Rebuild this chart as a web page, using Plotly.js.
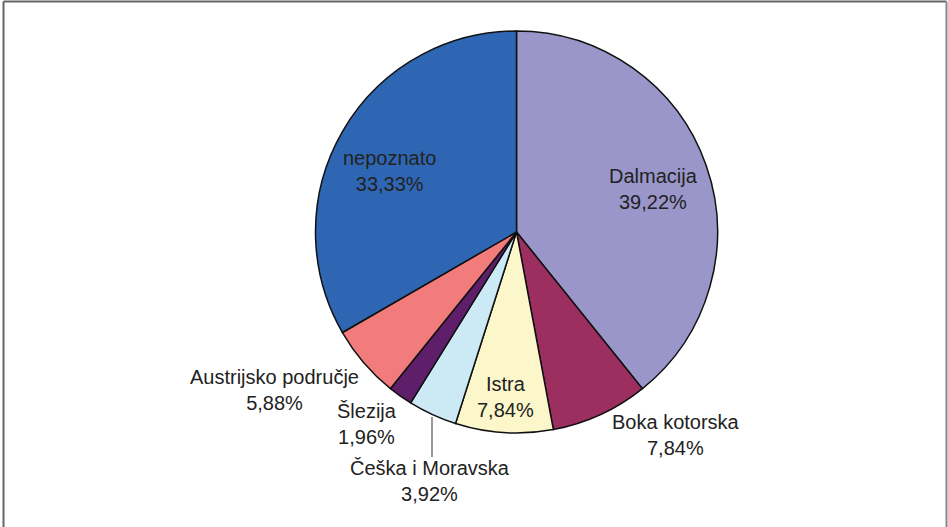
<!DOCTYPE html>
<html>
<head>
<meta charset="utf-8">
<script src="https://cdn.plot.ly/plotly-3.0.1.min.js"></script>
<style>
html,body{margin:0;padding:0;background:#fff;}
#chart{width:948px;height:527px;}
</style>
</head>
<body>
<div id="chart"></div>
<script>
// Data
const categories = ["Dalmacija", "Boka kotorska", "Istra", "Češka i Moravska", "Šlezija", "Austrijsko područje", "nepoznato"];
const shares = [39.22, 7.84, 7.84, 3.92, 1.96, 5.88, 33.33];
const sliceColors = ["#9A96C9", "#9C2F60", "#FBF7CB", "#CCEAF5", "#5F1E6A", "#F27C7C", "#2E66B3"];

const W = 948, H = 527;
const cx = 516.5, cy = 232, R = 201;

function pct(v){ return v.toFixed(2).replace('.', ',') + '%'; }

// label placement (pixel positions of label centres)
const labelPos = [
  [653, 189],  // Dalmacija
  [676, 435],  // Boka kotorska
  [505, 397],  // Istra
  [430, 481],  // Češka i Moravska
  [367, 424],  // Šlezija
  [274, 390],  // Austrijsko područje
  [389, 171]   // nepoznato
];

const annotations = categories.map((c, i) => ({
  xref: 'paper', yref: 'paper',
  x: labelPos[i][0] / W, y: 1 - labelPos[i][1] / H,
  xanchor: 'center', yanchor: 'middle',
  text: c + '<br>' + pct(shares[i]),
  showarrow: false,
  align: 'center',
  font: {family: 'Liberation Sans, Arial, sans-serif', size: 20, color: '#222'}
}));

const shapes = [
  // frame
  {type:'line', xref:'paper', yref:'paper', x0:3.5/W, x1:3.5/W, y0:0, y1:1-1.5/H, line:{color:'#666', width:2}},
  {type:'line', xref:'paper', yref:'paper', x0:3.5/W, x1:946.5/W, y0:1-1.5/H, y1:1-1.5/H, line:{color:'#666', width:2}},
  {type:'line', xref:'paper', yref:'paper', x0:946.5/W, x1:946.5/W, y0:0, y1:1-1.5/H, line:{color:'#888', width:2}},
  // leader line for Češka i Moravska
  {type:'line', xref:'paper', yref:'paper', x0:432/W, x1:432/W, y0:1-417/H, y1:1-457/H, line:{color:'#555', width:1.2}}
];

const trace = {
  type: 'pie',
  labels: categories,
  values: shares,
  sort: false,
  direction: 'clockwise',
  rotation: 0,
  textinfo: 'none',
  hoverinfo: 'label+percent',
  marker: {colors: sliceColors, line: {color: '#111', width: 1.5}},
  domain: {
    x: [(cx - R) / W, (cx + R) / W],
    y: [1 - (cy + R) / H, 1 - (cy - R) / H]
  },
  showlegend: false
};

const layout = {
  width: W, height: H,
  margin: {l:0, r:0, t:0, b:0, pad:0},
  paper_bgcolor: '#fff',
  plot_bgcolor: '#fff',
  showlegend: false,
  annotations: annotations,
  shapes: shapes
};

Plotly.newPlot('chart', [trace], layout, {displayModeBar:false, staticPlot:true});
</script>
</body>
</html>
